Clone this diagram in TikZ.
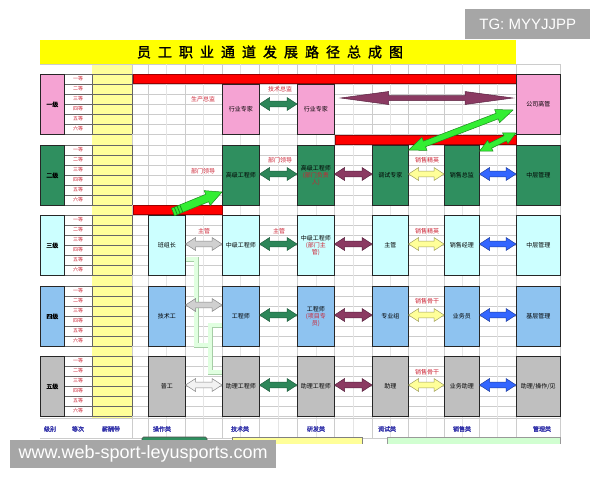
\documentclass[tikz,border=0pt]{standalone}
\usepackage{fontspec}
\setmainfont{Liberation Sans}
\newfontfamily\cjk{Noto Sans CJK SC}
\newfontfamily\cjkb[FakeBold=1.5]{Noto Sans CJK SC}
\usetikzlibrary{calc}
\definecolor{pinkc}{HTML}{F5A3D3}
\definecolor{greenc}{HTML}{2F8F5F}
\definecolor{cyanc}{HTML}{CCFFFF}
\definecolor{bluec}{HTML}{8EC3F0}
\definecolor{grayc}{HTML}{BFBFBF}
\definecolor{paleY}{HTML}{FFFF99}
\definecolor{titleY}{HTML}{FFFF00}
\definecolor{redbar}{HTML}{FF0000}
\definecolor{labred}{HTML}{CC2233}
\definecolor{lblue}{HTML}{3333AA}
\definecolor{agf}{HTML}{2D8659}
\definecolor{agd}{HTML}{1E5E3E}
\definecolor{apf}{HTML}{8B3A62}
\definecolor{apd}{HTML}{5A2340}
\definecolor{ayf}{HTML}{FFFF99}
\definecolor{ayd}{HTML}{A0A060}
\definecolor{abf}{HTML}{3366FF}
\definecolor{abd}{HTML}{1F3FA0}
\definecolor{asf}{HTML}{D0D0D0}
\definecolor{asd}{HTML}{888888}
\definecolor{alf}{HTML}{33EE33}
\definecolor{ald}{HTML}{1A8C1A}
\definecolor{wmgray}{HTML}{A6A6A6}
\newcommand\bx[7]{\node[box,fill=#6,minimum width={(#4-#2)*1pt},minimum height={(#5-#3)*1pt}] (#1) at (#2,#3) {#7};}
\newcommand\darr[6]{%
  \path (#1) coordinate (s) (#2) coordinate (e);
  \path ($(s)!#3!(e)$) coordinate (h1) ($(e)!#3!(s)$) coordinate (h2);
  \path[#6] (s) -- ($(h1)!#4!90:(e)$) -- ($(h1)!#5!90:(e)$) -- ($(h2)!#5!-90:(s)$) -- ($(h2)!#4!-90:(s)$) -- (e) -- ($(h2)!#4!90:(s)$) -- ($(h2)!#5!90:(s)$) -- ($(h1)!#5!-90:(e)$) -- ($(h1)!#4!-90:(e)$) -- cycle;}
\newcommand\sarr[6]{%
  \path (#1) coordinate (s) (#2) coordinate (e);
  \path ($(e)!#3!(s)$) coordinate (h);
  \path[#6] ($(s)!#5!90:(e)$) -- ($(h)!#5!-90:(s)$) -- ($(h)!#4!-90:(s)$) -- (e) -- ($(h)!#4!90:(s)$) -- ($(h)!#5!90:(s)$) -- ($(s)!#5!-90:(e)$) -- cycle;}
\newcommand\tsp{\hspace{7pt}}
\begin{document}
\begin{tikzpicture}[x=1pt,y=-1pt,
  cj/.style={font=\cjk\fontsize{6}{7.2}\selectfont},
  box/.style={draw=black!85, line width=0.6pt, inner sep=0pt, align=center, cj, anchor=north west},
  lvl/.style={box, font=\cjkb\fontsize{6.5}{7.5}\selectfont},
  lab/.style={cj, text=labred, inner sep=0pt},
  dc/.style={font=\cjk\fontsize{5}{6}\selectfont, text=labred, inner sep=0pt},
  blab/.style={font=\cjkb\fontsize{6}{7}\selectfont, text=lblue, inner sep=0pt},
  gridl/.style={draw=black!20, line width=0.4pt},
  gridf/.style={draw=black!10, line width=0.4pt},
  arrG/.style={fill=agf, draw=agd, line width=0.5pt},
  arrP/.style={fill=apf, draw=apd, line width=0.5pt},
  arrY/.style={fill=ayf, draw=ayd, line width=0.5pt},
  arrB/.style={fill=abf, draw=abd, line width=0.5pt},
  arrS/.style={fill=asf, draw=asd, line width=0.5pt},
  arrW/.style={fill=black!5, draw=asd, line width=0.5pt},
  arrL/.style={fill=alf, draw=ald, line width=0.5pt},
  pipe/.style={draw=green!45!black!35, double=green!12, double distance=4pt, line width=0.5pt},
  rbar/.style={fill=redbar, draw=red!60!black, line width=0.4pt}]
\useasboundingbox (0,0) rectangle (600,480);
\fill[white] (0,0) rectangle (600,480);

% title bar
\node[fill=titleY, minimum width=476pt, minimum height=24pt, inner sep=0pt, anchor=north west] (titlebar) at (40,40) {};
\node[font=\cjkb\fontsize{14}{16}\selectfont, inner sep=0pt] (title) at (270,52) {员\tsp 工\tsp 职\tsp 业\tsp 通\tsp 道\tsp 发\tsp 展\tsp 路\tsp 径\tsp 总\tsp 成\tsp 图};

% pale yellow column
\fill[paleY] (92,64) rectangle (132,418);

% grid
\draw[gridl] (40,64) -- (560,64);
\foreach \t in {74,145,215,286,356}
  \foreach \k in {0,...,6}
    \draw[gridl] (64,{\t+10*\k}) -- (560,{\t+10*\k});
\foreach \x in {166,203,240,278,316,353,390,426,462,497}
  \draw[gridf] (\x,64) -- (\x,438);
\foreach \x in {132,148,185,222,259,297,334,372,408,444,479,516,560}
  \draw[gridl] (\x,64) -- (\x,438);
\draw[gridl] (40,418) -- (560,418);
\draw[gridl] (40,438) -- (560,438);

% grade column lines
\foreach \t in {74,145,215,286,356}{
  \foreach \k in {0,...,6}
    \draw[black!60, line width=0.5pt] (64,{\t+10*\k}) -- (132,{\t+10*\k});
  \draw[black!60, line width=0.5pt] (92,\t) -- (92,{\t+60});
  \draw[black!60, line width=0.5pt] (132,\t) -- (132,{\t+60});
}

% grade labels
\foreach \r/\t in {1/74,2/145,3/215,4/286,5/356}
  \foreach \i/\g in {0/一等,1/二等,2/三等,3/四等,4/五等,5/六等}
    \node[dc] (g\r\i) at (78,{\t+5+10*\i}) {\g};

% red bars
\fill[rbar] (133,74) rectangle (516,83);
\fill[rbar] (335,135) rectangle (516,144);
\fill[rbar] (133,205) rectangle (222,214);

% pale green pipes
\bx{O3}{148}{215}{185}{275}{cyanc}{班组长}
\bx{T4}{222}{286}{259}{346}{bluec}{工程师}
\bx{T5}{222}{356}{259}{416}{grayc}{助理工程师}
\draw[pipe] (O3.east |- 0,259) -- (196,259) -- (196,345) -- (210,345);
\draw[pipe] (T4.west |- 0,325) -- (210,325) -- (210,372) -- (T5.west |- 0,372);

% level boxes
\bx{L1}{40}{74}{64}{134}{pinkc}{\cjkb 一级}
\bx{L2}{40}{145}{64}{205}{greenc}{\cjkb 二级}
\bx{L3}{40}{215}{64}{275}{cyanc}{\cjkb 三级}
\bx{L4}{40}{286}{64}{346}{bluec}{\cjkb 四级}
\bx{L5}{40}{356}{64}{416}{grayc}{\cjkb 五级}

% row 1
\bx{T1}{222}{84}{259}{134}{pinkc}{行业专家}
\bx{D1}{297}{84}{334}{134}{pinkc}{行业专家}
\bx{M1}{516}{74}{560}{134}{pinkc}{公司高管}
% row 2
\bx{T2}{222}{145}{259}{205}{greenc}{高级工程师}
\bx{D2}{297}{145}{334}{205}{greenc}{高级工程师\\{\color{labred}(部门负责}\\{\color{labred}人)}}
\bx{Y2}{372}{145}{408}{205}{greenc}{调试专家}
\bx{S2}{444}{145}{479}{205}{greenc}{销售总监}
\bx{M2}{516}{145}{560}{205}{greenc}{中层管理}
% row 3
\bx{T3}{222}{215}{259}{275}{cyanc}{中级工程师}
\bx{D3}{297}{215}{334}{275}{cyanc}{中级工程师\\{\color{labred}(部门主}\\{\color{labred}管)}}
\bx{Y3}{372}{215}{408}{275}{cyanc}{主管}
\bx{S3}{444}{215}{479}{275}{cyanc}{销售经理}
\bx{M3}{516}{215}{560}{275}{cyanc}{中层管理}
% row 4
\bx{O4}{148}{286}{185}{346}{bluec}{技术工}
\bx{D4}{297}{286}{334}{346}{bluec}{工程师\\{\color{labred}(项目专}\\{\color{labred}员)}}
\bx{Y4}{372}{286}{408}{346}{bluec}{专业组}
\bx{S4}{444}{286}{479}{346}{bluec}{业务员}
\bx{M4}{516}{286}{560}{346}{bluec}{基层管理}
% row 5
\bx{O5}{148}{356}{185}{416}{grayc}{普工}
\bx{D5}{297}{356}{334}{416}{grayc}{助理工程师}
\bx{Y5}{372}{356}{408}{416}{grayc}{助理}
\bx{S5}{444}{356}{479}{416}{grayc}{业务助理}
\bx{M5}{516}{356}{560}{416}{grayc}{助理/操作/见}

% arrows row 1
\darr{T1.east |- 0,104}{D1.west |- 0,104}{10pt}{6.5pt}{2.8pt}{arrG}
\darr{$(D1.east |- 0,98)+(6,0)$}{$(M1.west |- 0,98)+(-3,0)$}{48pt}{6.5pt}{2.5pt}{arrP}
\darr{Y2.east |- 0,150}{$(M1.west |- 0,110)+(-3,0)$}{17pt}{7pt}{3pt}{arrL}
\darr{S2.east |- 0,151}{M1.west |- 0,133}{12pt}{6pt}{2.8pt}{arrL}
% row 2
\darr{T2.east |- 0,174}{D2.west |- 0,174}{10pt}{6.5pt}{2.8pt}{arrG}
\darr{D2.east |- 0,174}{Y2.west |- 0,174}{10pt}{6.5pt}{2.8pt}{arrP}
\darr{Y2.east |- 0,174}{S2.west |- 0,174}{10pt}{6.5pt}{2.8pt}{arrY}
\darr{S2.east |- 0,174}{M2.west |- 0,174}{10pt}{6.5pt}{2.8pt}{arrB}
% single green arrow
\sarr{173,212}{T2.west |- 0,192}{16pt}{8pt}{4pt}{arrL}
\path ($(s)!3pt!(e)$) coordinate (p1) ($(s)!6pt!(e)$) coordinate (p2) ($(s)!9pt!(e)$) coordinate (p3);
\foreach \p in {p1,p2,p3}
  \draw[ald, line width=0.8pt] ($(\p)!4pt!90:(e)$) -- ($(\p)!4pt!-90:(e)$);
% row 3
\darr{O3.east |- 0,244}{T3.west |- 0,244}{10pt}{6.5pt}{2.8pt}{arrS}
\darr{T3.east |- 0,244}{D3.west |- 0,244}{10pt}{6.5pt}{2.8pt}{arrG}
\darr{D3.east |- 0,244}{Y3.west |- 0,244}{10pt}{6.5pt}{2.8pt}{arrP}
\darr{Y3.east |- 0,244}{S3.west |- 0,244}{10pt}{6.5pt}{2.8pt}{arrY}
\darr{S3.east |- 0,244}{M3.west |- 0,244}{10pt}{6.5pt}{2.8pt}{arrB}
% row 4
\darr{O4.east |- 0,305}{T4.west |- 0,305}{10pt}{6.5pt}{2.8pt}{arrS}
\darr{T4.east |- 0,315}{D4.west |- 0,315}{10pt}{6.5pt}{2.8pt}{arrG}
\darr{D4.east |- 0,315}{Y4.west |- 0,315}{10pt}{6.5pt}{2.8pt}{arrP}
\darr{Y4.east |- 0,315}{S4.west |- 0,315}{10pt}{6.5pt}{2.8pt}{arrY}
\darr{S4.east |- 0,315}{M4.west |- 0,315}{10pt}{6.5pt}{2.8pt}{arrB}
% row 5
\darr{O5.east |- 0,385}{T5.west |- 0,385}{10pt}{6.5pt}{2.8pt}{arrW}
\darr{T5.east |- 0,385}{D5.west |- 0,385}{10pt}{6.5pt}{2.8pt}{arrG}
\darr{D5.east |- 0,385}{Y5.west |- 0,385}{10pt}{6.5pt}{2.8pt}{arrP}
\darr{Y5.east |- 0,385}{S5.west |- 0,385}{10pt}{6.5pt}{2.8pt}{arrY}
\darr{S5.east |- 0,385}{M5.west |- 0,385}{10pt}{6.5pt}{2.8pt}{arrB}

% red labels
\node[lab] (lb1) at (203,99) {生产总监};
\node[lab] (lb2) at (280,89) {技术总监};
\node[lab] (lb3) at (203,171) {部门领导};
\node[lab] (lb4) at (280,160) {部门领导};
\node[lab] (lb5) at (427,160) {销售精英};
\node[lab] (lb6) at (204,231) {主管};
\node[lab] (lb7) at (279,231) {主管};
\node[lab] (lb8) at (427,231) {销售精英};
\node[lab] (lb9) at (427,301) {销售骨干};
\node[lab] (lb10) at (427,372) {销售骨干};

% bottom labels
\node[blab] (c1) at (50,429) {级别};
\node[blab] (c2) at (78,429) {等次};
\node[blab] (c3) at (111,429) {薪酬带};
\node[blab] (c4) at (162,429) {操作类};
\node[blab] (c5) at (240,429) {技术类};
\node[blab] (c6) at (316,429) {研发类};
\node[blab] (c7) at (387,429) {调试类};
\node[blab] (c8) at (462,429) {销售类};
\node[blab] (c9) at (542,429) {管理类};

% bottom slivers
\filldraw[fill=greenc, draw=black!70, rounded corners=1.5pt, line width=0.6pt] (142,437) rectangle (207,446);
\filldraw[fill=paleY, draw=black!50, line width=0.6pt] (232,437) rectangle (362,446);
\filldraw[fill=green!18, draw=black!40, line width=0.6pt] (387,437) rectangle (560,446);
\fill[white] (0,444) rectangle (600,480);

% watermarks
\node[fill=wmgray, text=white, font=\fontsize{15}{17}\selectfont, minimum width=125pt, minimum height=30pt, inner sep=0pt, anchor=north west] (tg) at (465,9) {TG: MYYJJPP};
\node[fill=wmgray, text=white, font=\fontsize{18}{20}\selectfont, minimum width=266pt, minimum height=28pt, inner sep=0pt, anchor=north west] (wm) at (10,440) {www.web-sport-leyusports.com};
\end{tikzpicture}
\end{document}
